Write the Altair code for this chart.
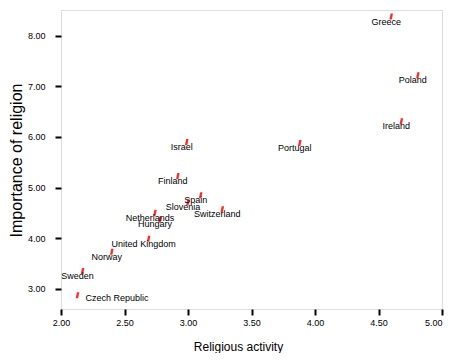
import altair as alt
import pandas as pd

countries = ["Greece", "Poland", "Ireland", "Portugal", "Israel", "Finland", "Spain",
             "Slovenia", "Switzerland", "Netherlands", "Hungary", "United Kingdom",
             "Norway", "Sweden", "Czech Republic"]
activity = [4.60, 4.81, 4.68, 3.88, 2.99, 2.92, 3.10, 3.00, 3.27, 2.74, 2.78, 2.69, 2.40, 2.17, 2.13]
importance = [8.38, 7.22, 6.31, 5.88, 5.90, 5.23, 4.85, 4.71, 4.57, 4.50, 4.37, 3.99, 3.73, 3.35, 2.87]

x_ticks = [2.0, 2.5, 3.0, 3.5, 4.0, 4.5, 5.0]
y_ticks = [3.0, 4.0, 5.0, 6.0, 7.0, 8.0]

df = pd.DataFrame({"country": countries, "activity": activity, "importance": importance})

FONT = "Liberation Sans"

x = alt.X("activity:Q",
          scale=alt.Scale(domain=[2.0, 5.0], nice=False, zero=False),
          axis=alt.Axis(values=x_ticks, format=".2f", title="Religious activity",
                        grid=False, domain=False, ticks=True, tickSize=6, tickWidth=2,
                        tickColor="#000000", labelPadding=3, labelFontSize=9,
                        labelFont=FONT, labelColor="#000000",
                        labelAlign={"condition": {"test": "datum.value >= 5", "value": "right"},
                                    "value": "center"},
                        titleFont=FONT, titleFontSize=12, titleFontWeight="normal",
                        titleColor="#000000", titleX=177, titleY=41,
                        titleAlign="center", titleBaseline="alphabetic",
                        labelFlush=False))
y = alt.Y("importance:Q",
          scale=alt.Scale(domain=[2.6, 8.51], nice=False, zero=False),
          axis=alt.Axis(values=y_ticks, format=".2f", title="Importance of religion",
                        grid=False, domain=False, ticks=True, tickSize=6, tickWidth=2,
                        tickColor="#000000", labelPadding=10, labelFontSize=9,
                        labelFont=FONT, labelColor="#000000",
                        titleFont=FONT, titleFontSize=16, titleFontWeight="normal",
                        titleColor="#000000", titleAngle=270, titleX=-40, titleY=150,
                        titleAlign="center", titleBaseline="alphabetic",
                        labelFlush=False))

base = alt.Chart(df)

points = base.mark_point(
    shape="M-0.6,1 L0.2,1 L0.6,-1 L-0.2,-1 Z",
    filled=True, color="#ff2a2a", size=36, opacity=1
).encode(x=x, y=y)

labels = base.transform_filter(alt.datum.country != "Czech Republic").mark_text(
    align="center", baseline="middle", dx=-5, dy=5, font=FONT, fontSize=9, color="#000000"
).encode(x=x, y=y, text="country:N")

labels_czech = base.transform_filter(alt.datum.country == "Czech Republic").mark_text(
    align="left", baseline="middle", dx=8, dy=3, font=FONT, fontSize=9, color="#000000"
).encode(x=x, y=y, text="country:N")

chart = alt.layer(points, labels, labels_czech).properties(
    width=381, height=299,
    autosize=alt.AutoSizeParams(type="none"),
    padding={"left": 53, "top": 2, "right": 2, "bottom": 44}
).configure_view(stroke="#404040", strokeWidth=1).configure(background="#ffffff")

chart.save("out.html", embed_options={"renderer": "svg", "actions": False})
